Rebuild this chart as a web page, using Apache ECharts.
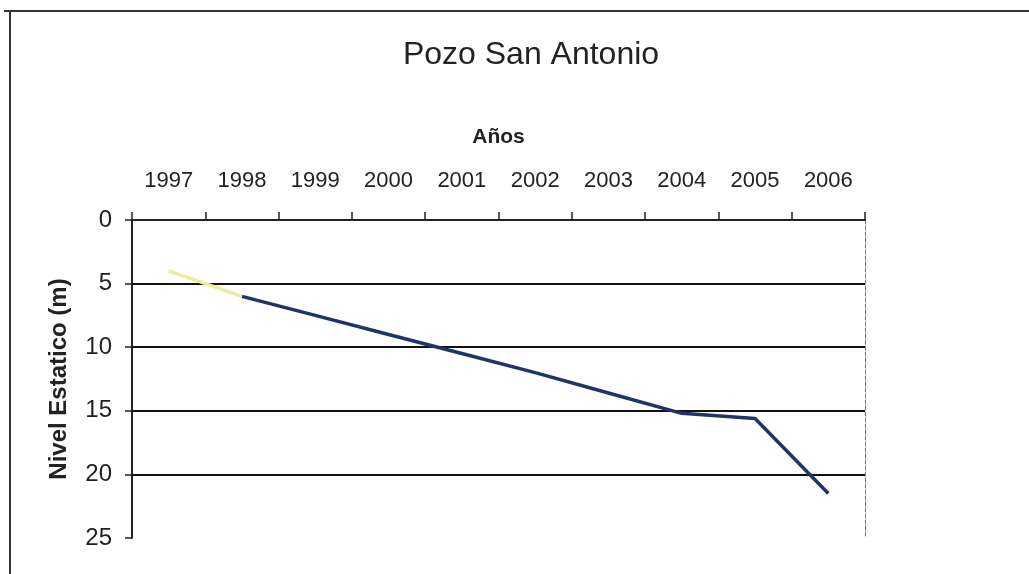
<!DOCTYPE html>
<html>
<head>
<meta charset="utf-8">
<script src="https://cdn.jsdelivr.net/npm/echarts@6/dist/echarts.min.js"></script>
<style>
  html, body { margin: 0; padding: 0; background: #fff; }
  #chart { width: 1029px; height: 574px; }
</style>
</head>
<body>
<div id="chart"></div>
<script>
// Years on the top axis
const years = ['1997', '1998', '1999', '2000', '2001', '2002', '2003', '2004', '2005', '2006'];
// Static level (m)
const nivel = [4.0, 6.0, 7.5, 9.0, 10.5, 12.0, 13.6, 15.2, 15.6, 21.5];
// y-axis ticks: 0..25 step 5
const yTicks = [0, 5, 10, 15, 20, 25];

// the first segment shows up pale yellow in the scan, the rest navy
const firstSeg = nivel.map((v, i) => (i <= 1 ? v : '-'));
const restSeg = nivel.map((v, i) => (i >= 1 ? v : '-'));

const chart = echarts.init(document.getElementById('chart'));

const option = {
  backgroundColor: '#fff',
  animation: false,
  textStyle: { fontFamily: 'Liberation Sans, Arial, sans-serif', color: '#222' },
  title: {
    text: 'Pozo San Antonio',
    left: 526,
    top: 34,
    textAlign: 'center',
    textStyle: { fontSize: 32, fontWeight: 'normal', color: '#222' }
  },
  grid: { left: 132, right: 164, top: 220, bottom: 36 },
  xAxis: {
    type: 'category',
    position: 'top',
    data: years,
    boundaryGap: true,
    name: 'Años',
    nameLocation: 'middle',
    nameGap: 72,
    nameTextStyle: { fontSize: 21, fontWeight: 'bold', color: '#222' },
    axisLine: { show: true, lineStyle: { color: '#222', width: 2 } },
    axisTick: { show: true, inside: false, length: 8, lineStyle: { color: '#222', width: 1.5 } },
    axisLabel: { fontSize: 22, color: '#222', margin: 28 },
    splitLine: { show: false }
  },
  yAxis: [
    {
      type: 'value',
      inverse: true,
      min: yTicks[0],
      max: yTicks[yTicks.length - 1],
      interval: 5,
      name: 'Nivel Estatico (m)',
      nameLocation: 'middle',
      nameGap: 61,
      nameTextStyle: { fontSize: 24, fontWeight: 'bold', color: '#222' },
      axisLine: { show: true, lineStyle: { color: '#222', width: 2 } },
      axisTick: { show: true, inside: false, length: 7, lineStyle: { color: '#222', width: 1.5 } },
      axisLabel: { fontSize: 24, color: '#222', margin: 20 },
      splitLine: {
        show: true,
        lineStyle: { color: ['transparent', '#111', '#111', '#111', '#111', 'transparent'], width: 2 }
      }
    },
    {
      type: 'value',
      inverse: true,
      position: 'right',
      min: yTicks[0],
      max: yTicks[yTicks.length - 1],
      interval: 5,
      axisLine: { show: true, lineStyle: { color: '#777', width: 1, type: 'dashed' } },
      axisTick: { show: false },
      axisLabel: { show: false },
      splitLine: { show: false }
    }
  ],
  graphic: [
    { type: 'line', shape: { x1: 4, y1: 11, x2: 1029, y2: 11 }, style: { stroke: '#333', lineWidth: 2 } },
    { type: 'line', shape: { x1: 10, y1: 11, x2: 10, y2: 574 }, style: { stroke: '#333', lineWidth: 2 } }
  ],
  series: [
    {
      type: 'line',
      data: restSeg,
      showSymbol: false,
      symbol: 'none',
      lineStyle: { color: '#1f3565', width: 3.5 },
      z: 3
    },
    {
      type: 'line',
      data: firstSeg,
      showSymbol: false,
      symbol: 'none',
      lineStyle: { color: '#ecec9a', width: 3.5 },
      z: 4
    }
  ]
};

chart.setOption(option);
</script>
</body>
</html>
